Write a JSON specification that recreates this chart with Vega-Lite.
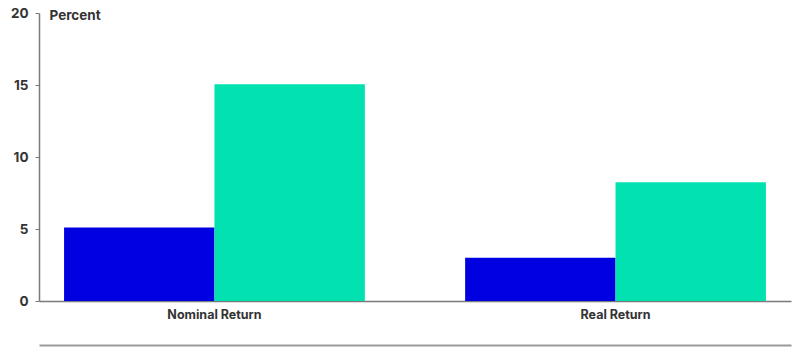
{
  "$schema": "https://vega.github.io/schema/vega-lite/v6.json",
  "width": 752,
  "height": 288,
  "autosize": {"type": "none"},
  "padding": {"left": 39, "top": 13, "right": 8, "bottom": 46},
  "background": "white",
  "data": {
    "values": [
      {"category": "Nominal Return", "series": "Series A", "value": 5.1},
      {"category": "Nominal Return", "series": "Series B", "value": 15.05},
      {"category": "Real Return", "series": "Series A", "value": 3.0},
      {"category": "Real Return", "series": "Series B", "value": 8.25}
    ]
  },
  "layer": [
    {
      "mark": {"type": "bar"},
      "encoding": {
        "x": {
          "field": "category",
          "type": "nominal",
          "sort": ["Nominal Return", "Real Return"],
          "scale": {"paddingInner": 0.25, "paddingOuter": 0.0625},
          "axis": {
            "title": null,
            "labelAngle": 0,
            "ticks": false,
            "domainColor": "#7a7a7a",
            "domainWidth": 1.5,
            "labelFont": "Inter",
            "labelFontWeight": "bold",
            "labelFontSize": 12.5,
            "labelColor": "#333333",
            "labelPadding": 7
          }
        },
        "xOffset": {
          "field": "series",
          "type": "nominal",
          "scale": {"paddingInner": 0, "paddingOuter": 0}
        },
        "y": {
          "field": "value",
          "type": "quantitative",
          "scale": {"domain": [0, 20], "nice": false},
          "axis": {
            "values": [0, 5, 10, 15, 20],
            "grid": false,
            "title": "Percent",
            "titleAngle": 0,
            "titleX": 10,
            "titleY": 2,
            "titleAlign": "left",
            "titleBaseline": "middle",
            "titleFont": "Inter",
            "titleFontWeight": "bold",
            "titleFontSize": 13.5,
            "titleColor": "#333333",
            "domainColor": "#7a7a7a",
            "domainWidth": 1.5,
            "tickColor": "#7a7a7a",
            "tickSize": 4,
            "labelPadding": 7,
            "labelFont": "Inter",
            "labelFontWeight": "bold",
            "labelFontSize": 13.5,
            "labelColor": "#333333"
          }
        },
        "color": {
          "field": "series",
          "type": "nominal",
          "scale": {"range": ["#0000e0", "#02e2b0"]},
          "legend": null
        }
      }
    },
    {
      "mark": {"type": "bar", "opacity": 0},
      "encoding": {
        "x": {
          "field": "category",
          "type": "nominal",
          "sort": ["Nominal Return", "Real Return"],
          "axis": {
            "orient": "bottom",
            "offset": 44,
            "labels": false,
            "ticks": false,
            "title": null,
            "domainColor": "#9a9a9a",
            "domainWidth": 2
          }
        },
        "y": {"field": "value", "type": "quantitative", "axis": null}
      }
    }
  ],
  "resolve": {"axis": {"x": "independent", "y": "independent"}},
  "config": {"view": {"stroke": null}}
}
